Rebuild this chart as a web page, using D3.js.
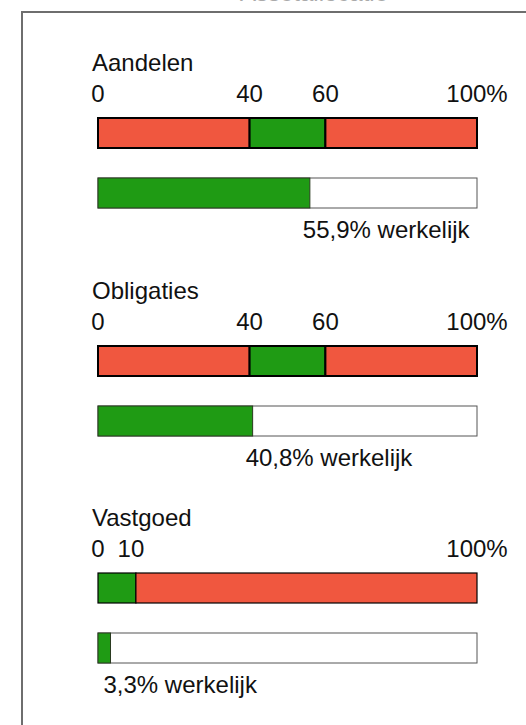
<!DOCTYPE html>
<html>
<head>
<meta charset="utf-8">
<script src="https://cdn.jsdelivr.net/npm/d3@7"></script>
<style>
  body { margin: 0; background: #fff; }
  text { font-family: "Liberation Sans", Arial, sans-serif; font-size: 24px; fill: #111; }
</style>
</head>
<body>
<div id="chart"></div>
<script>
var width = 526,
    height = 725;

// data
var categories = ["Aandelen", "Obligaties", "Vastgoed"];
var bandLow = [40, 40, 0];
var bandHigh = [60, 60, 10];
var actual = [55.9, 40.8, 3.3];
var ticks = [[0, 40, 60, 100], [0, 40, 60, 100], [0, 10, 100]];
var title = "Assetallocatie";

var offsets = [0, 228, 455];   // vertical position of each block

var red = "#f0573f",
    green = "#1f9b14";

var nl = d3.formatLocale({decimal: ",", thousands: ".", grouping: [3], currency: ["€", ""]});
var fmt = nl.format(".1f");

var x = d3.scaleLinear()
    .domain([0, 100])
    .range([98, 477]);

var svg = d3.select("#chart").append("svg")
    .attr("width", width)
    .attr("height", height);

// frame (only left and top edges fall inside the window)
svg.append("rect")
    .attr("x", 22)
    .attr("y", 12)
    .attr("width", 700)
    .attr("height", 900)
    .attr("fill", "none")
    .attr("stroke", "#6e6e6e")
    .attr("stroke-width", 2);

// title, mostly above the window
svg.append("text")
    .attr("x", 314)
    .attr("y", 0.5)
    .attr("text-anchor", "middle")
    .style("fill", "#aaa")
    .text(title);

var block = svg.selectAll(".block")
    .data(categories)
  .enter().append("g")
    .attr("class", "block")
    .attr("transform", function(d, i) { return "translate(0," + offsets[i] + ")"; });

block.append("text")
    .attr("x", 92)
    .attr("y", 71)
    .text(function(d) { return d; });

// tick labels above the target bar
block.each(function(d, i) {
  var g = d3.select(this);
  var t = ticks[i];
  g.selectAll(".tick")
      .data(t)
    .enter().append("text")
      .attr("class", "tick")
      .attr("x", function(v, j) {
        // close neighbours get pushed a little apart, as in the original
        var near = j > 0 && x(v) - x(t[j - 1]) < 45;
        return x(v) - (near ? 5 : 0);
      })
      .attr("y", 102)
      .attr("text-anchor", "middle")
      .text(function(v) { return v === 100 ? "100%" : v; });

  var sw = i === 2 ? 1.2 : 2;

  // target bar: red - green - red
  var segs = [[0, bandLow[i], red], [bandLow[i], bandHigh[i], green], [bandHigh[i], 100, red]]
      .filter(function(s) { return s[1] > s[0]; });
  g.selectAll(".seg")
      .data(segs)
    .enter().append("rect")
      .attr("class", "seg")
      .attr("x", function(s) { return x(s[0]); })
      .attr("y", 118)
      .attr("width", function(s) { return x(s[1]) - x(s[0]); })
      .attr("height", 30)
      .attr("fill", function(s) { return s[2]; })
      .attr("stroke", "#000")
      .attr("stroke-width", sw);

  // actual bar
  g.append("rect")
      .attr("x", x(0))
      .attr("y", 178)
      .attr("width", x(100) - x(0))
      .attr("height", 30)
      .attr("fill", "#fff")
      .attr("stroke", "#555")
      .attr("stroke-width", 1);

  g.append("rect")
      .attr("x", x(0))
      .attr("y", 178)
      .attr("width", x(actual[i]) - x(0))
      .attr("height", 30)
      .attr("fill", green)
      .attr("stroke", "#2a3a20")
      .attr("stroke-width", 1);

  g.append("text")
      .attr("x", x(actual[i]) - 7)
      .attr("y", 238)
      .text(fmt(actual[i]) + "% werkelijk");
});
</script>
</body>
</html>
